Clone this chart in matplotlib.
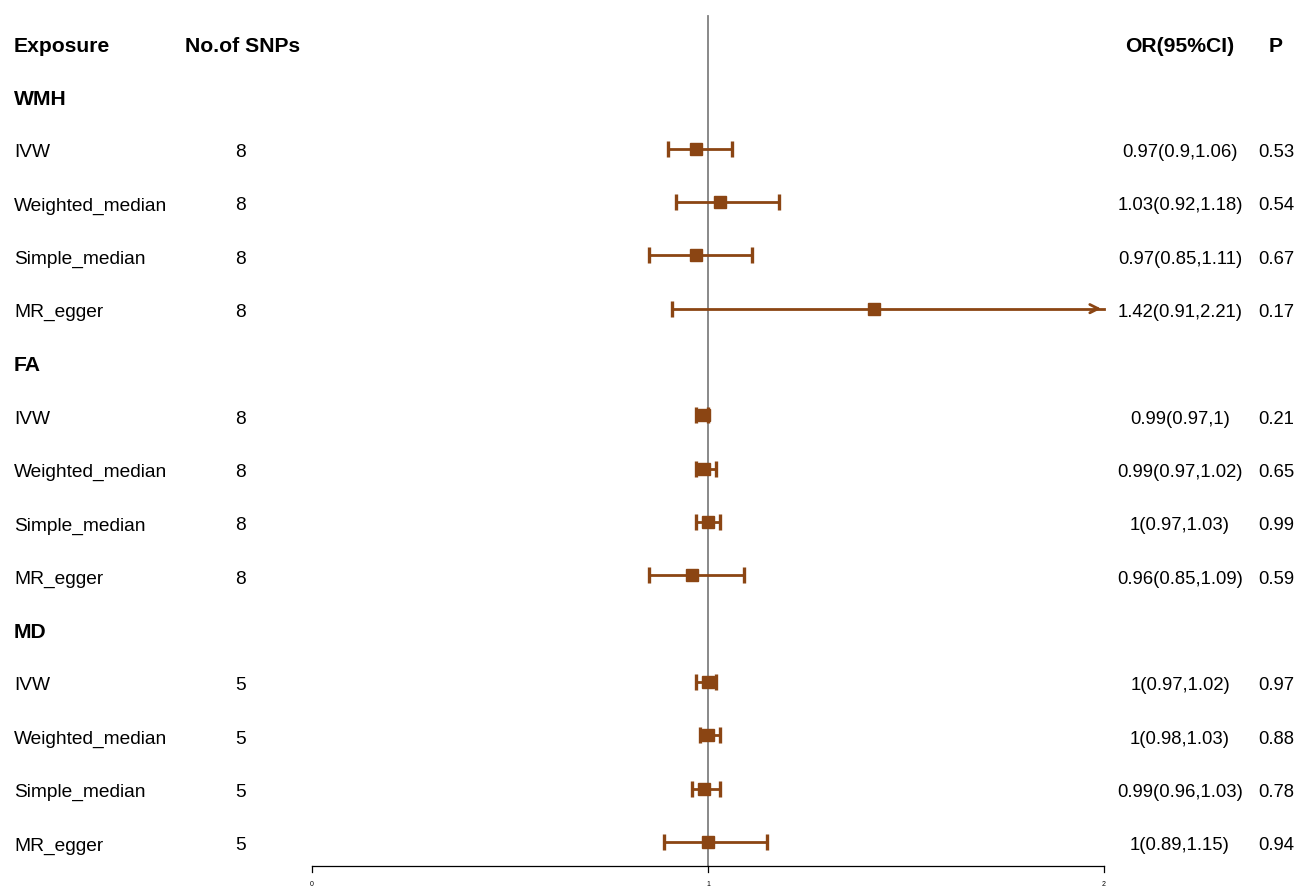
import matplotlib
import numpy as np
import matplotlib.pyplot as plt

plt.rcParams['font.family'] = ['Liberation Sans', 'DejaVu Sans']

groups   = ["WMH", "FA", "MD"]
methods  = ["IVW", "Weighted_median", "Simple_median", "MR_egger"]
n_snps   = [8, 8, 8, 8, 8, 8, 8, 8, 5, 5, 5, 5]
or_est   = [0.97, 1.03, 0.97, 1.42, 0.99, 0.99, 1.00, 0.96, 1.00, 1.00, 0.99, 1.00]
ci_low   = [0.90, 0.92, 0.85, 0.91, 0.97, 0.97, 0.97, 0.85, 0.97, 0.98, 0.96, 0.89]
ci_high  = [1.06, 1.18, 1.11, 2.21, 1.00, 1.02, 1.03, 1.09, 1.02, 1.03, 1.03, 1.15]
or_text  = ["0.97(0.9,1.06)", "1.03(0.92,1.18)", "0.97(0.85,1.11)", "1.42(0.91,2.21)",
            "0.99(0.97,1)", "0.99(0.97,1.02)", "1(0.97,1.03)", "0.96(0.85,1.09)",
            "1(0.97,1.02)", "1(0.98,1.03)", "0.99(0.96,1.03)", "1(0.89,1.15)"]
p_text   = ["0.53", "0.54", "0.67", "0.17", "0.21", "0.65", "0.99", "0.59",
            "0.97", "0.88", "0.78", "0.94"]
x_ticks  = [0, 1, 2]

W, H = 1296, 891
x0_px, x2_px = 312, 1104          # pixel positions of x = 0 and x = 2
row0_px, row_h = 45, 53.33        # header row centre and row spacing
axis_px = 866

brown = "#8B4513"

fig = plt.figure(figsize=(W / 100, H / 100), dpi=100)
ax = fig.add_axes([0, 0, 1, 1])
unit = (x2_px - x0_px) / 2.0
ax.set_xlim(-x0_px / unit, (W - x0_px) / unit)
ax.set_ylim((H - row0_px) / row_h, -row0_px / row_h)

def px2x(px):
    return (px - x0_px) / unit

def py2row(py):
    return (py - row0_px) / row_h

fs = 13.8
bold_fs = 15.2
t_off = -1.0 / row_h    # text offset
m_off = -3.0 / row_h    # marks a touch higher

def txt(xpx, r, s, **kw):
    ax.text(px2x(xpx), r + t_off, s, va="center_baseline", **kw)

# header
txt(14, 0, "Exposure", fontsize=bold_fs, fontweight="bold", ha="left")
txt(243, 0, "No.of SNPs", fontsize=bold_fs, fontweight="bold", ha="center")
txt(1180, 0, "OR(95%CI)", fontsize=bold_fs, fontweight="bold", ha="center")
txt(1276, 0, "P", fontsize=bold_fs, fontweight="bold", ha="center")

row = 1
k = 0
for g in groups:
    txt(14, row, g, fontsize=bold_fs, fontweight="bold", ha="left")
    row += 1
    for m in methods:
        txt(14, row, m, fontsize=fs, ha="left")
        txt(241, row, str(n_snps[k]), fontsize=fs, ha="center")
        txt(1180, row, or_text[k], fontsize=13.3, ha="center")
        txt(1276, row, p_text[k], fontsize=13.3, ha="center")

        y = row + m_off
        lo, hi = ci_low[k], ci_high[k]
        clipped = hi > 2
        hi_draw = min(hi, 2)
        ax.plot([lo, hi_draw], [y, y], color=brown, lw=2.0, zorder=3)
        ax.plot([lo], [y], marker="|", color=brown, ms=11, mew=2.4, zorder=3)
        if clipped:
            ax.annotate("", xy=(hi_draw, y), xytext=(hi_draw - 0.03, y),
                        arrowprops=dict(arrowstyle="->", color=brown, lw=2.0,
                                        mutation_scale=15), zorder=3)
        else:
            ax.plot([hi_draw], [y], marker="|", color=brown, ms=11, mew=2.4, zorder=3)
        ax.plot([or_est[k]], [y], marker="s", color=brown, ms=9, zorder=4)
        row += 1
        k += 1

# reference line at OR = 1
ax.plot([1, 1], [py2row(16), py2row(axis_px)], color="gray", lw=1.3, zorder=2)

# x axis
axis_row = py2row(axis_px)
ax.plot([0, 2], [axis_row, axis_row], color="black", lw=0.9)
for t in x_ticks:
    ax.plot([t, t], [axis_row, py2row(axis_px + 6)], color="black", lw=0.9)
    ax.text(t, py2row(884), str(t), fontsize=5, ha="center", va="center")

ax.axis("off")

plt.savefig("out.png", dpi=100)
